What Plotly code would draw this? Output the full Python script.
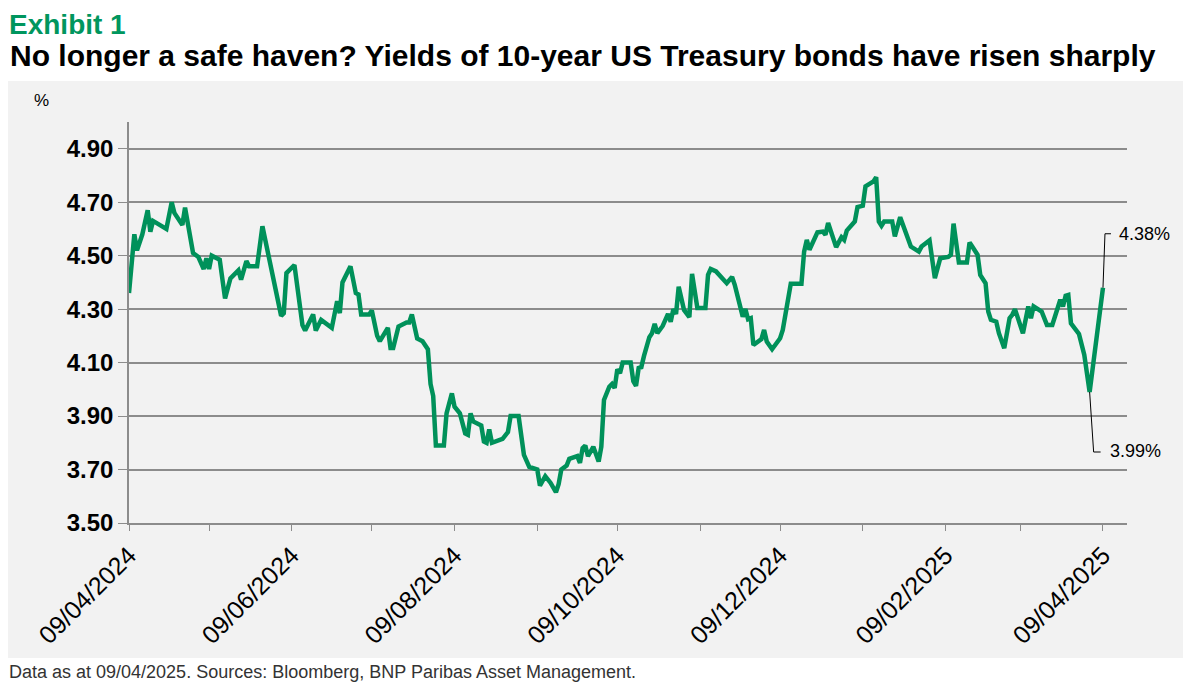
import pandas as pd
import plotly.graph_objects as go

# ---- data ----
start_date = "2024-04-09"
days_since_start = [
    0, 2, 3, 5, 7, 8, 9, 14, 16, 17, 20, 21, 24, 26, 28, 29, 30, 31, 34, 36, 38, 41, 42, 44, 45, 48, 50, 52, 55, 57, 58, 59, 62,
    65, 66, 69, 70, 72, 76, 78, 79, 80, 83, 85, 86, 87, 90, 91, 93, 94, 97, 98, 99, 101, 104, 105, 106, 108, 110, 112, 113, 114, 115, 118, 119, 121, 122, 124,
    126, 127, 128, 129, 132, 133, 134, 135, 136, 140, 142, 143, 146, 148, 150, 153, 154, 156, 158, 160, 161, 162, 164, 165, 168, 169, 170, 171, 172, 173, 174, 176, 177, 178, 180, 181, 182, 183, 184, 185,
    188, 189, 190, 191, 192, 193, 195, 196, 197, 198, 200, 202, 203, 204, 205, 206, 208, 210, 211, 213, 216, 217, 218, 220, 222, 224, 226, 227, 230, 231, 232, 233, 234, 235, 237, 238, 239, 241, 244, 245,
    248, 252, 253, 254, 255, 258, 260, 261, 262, 265, 267, 268, 269, 272, 273, 275, 276, 279, 280, 281, 282, 283, 286, 287, 289, 293, 296, 297, 300, 302, 304, 307,
    308, 309, 311, 314, 315, 316, 318, 319, 321, 322, 323, 325, 326, 328, 330, 331, 332, 335, 337, 338, 339, 342, 344, 346, 349, 350, 351, 352, 353, 356, 358, 360, 362, 365,
]
yield_pct = [
    4.36, 4.58, 4.52, 4.58, 4.67, 4.59, 4.63, 4.60, 4.70, 4.66, 4.615, 4.68, 4.51, 4.495, 4.45, 4.49, 4.45, 4.50, 4.485, 4.34, 4.415, 4.445, 4.41, 4.48, 4.46, 4.46, 4.61, 4.515, 4.39, 4.275, 4.285, 4.435, 4.465,
    4.24, 4.22, 4.28, 4.22, 4.26, 4.23, 4.33, 4.285, 4.40, 4.46, 4.36, 4.355, 4.28, 4.28, 4.295, 4.20, 4.18, 4.23, 4.155, 4.155, 4.235, 4.25, 4.25, 4.28, 4.19, 4.18, 4.15, 4.02, 3.975, 3.79, 3.79, 3.91, 3.985, 3.935, 3.91,
    3.835, 3.83, 3.91, 3.88, 3.865, 3.805, 3.80, 3.85, 3.80, 3.815, 3.84, 3.90, 3.90, 3.755, 3.71, 3.70, 3.64, 3.675, 3.65, 3.615, 3.645, 3.70, 3.715, 3.74, 3.75, 3.725, 3.78, 3.79, 3.75, 3.77, 3.785, 3.73, 3.785, 3.96, 4.01, 4.02, 4.005, 4.075, 4.06, 4.10,
    4.10, 4.03, 4.013, 4.08, 4.083, 4.125, 4.195, 4.21, 4.245, 4.21, 4.237, 4.282, 4.253, 4.30, 4.282, 4.384, 4.297, 4.27, 4.432, 4.304, 4.304, 4.428, 4.45, 4.441, 4.42, 4.397, 4.42, 4.391, 4.272, 4.30, 4.262, 4.266, 4.166, 4.172, 4.188, 4.222, 4.179, 4.15, 4.191, 4.222,
    4.395, 4.395, 4.515, 4.559, 4.522, 4.587, 4.59, 4.578, 4.622, 4.532, 4.569, 4.559, 4.594, 4.628, 4.682, 4.687, 4.759, 4.778, 4.794, 4.628, 4.612, 4.628, 4.628, 4.572, 4.644, 4.534, 4.515, 4.534, 4.557, 4.416, 4.49, 4.495,
    4.503, 4.62, 4.474, 4.474, 4.549, 4.534, 4.503, 4.428, 4.397, 4.291, 4.26, 4.253, 4.21, 4.154, 4.266, 4.279, 4.30, 4.21, 4.31, 4.266, 4.31, 4.291, 4.241, 4.241, 4.335, 4.31, 4.35, 4.353, 4.247, 4.207, 4.129, 3.99, 4.135, 4.38,
]
y_ticks = [3.50, 3.70, 3.90, 4.10, 4.30, 4.50, 4.70, 4.90]
low_value = 3.99
low_label = "3.99%"
last_label = "4.38%"
title_top = "Exhibit 1"
title_main = "No longer a safe haven? Yields of 10-year US Treasury bonds have risen sharply"
footer = "Data as at 09/04/2025. Sources: Bloomberg, BNP Paribas Asset Management."

dates = pd.Timestamp(start_date) + pd.to_timedelta(days_since_start, unit="D")
low_i = yield_pct.index(low_value)
last_i = len(yield_pct) - 1

GREEN = "#00915a"
GRID = "#8c8c8c"
BG = "#f2f2f2"
FONT = "Liberation Sans"

# page body has an 8px margin; figure sized to fit inside the window
OFF = 8
W, H = 1191 - 2 * OFF, 690 - 2 * OFF
ML = 129 - OFF
MT = 122 - OFF
MR = W - (1127 - OFF)
MB = H - (523 - OFF)
PW, PH = W - ML - MR, H - MT - MB


def px_x(p):  # page pixel -> paper x
    return (p - OFF - ML) / PW


def px_y(p):  # page pixel -> paper y
    return (H - MB - (p - OFF)) / PH


fig = go.Figure()
fig.add_trace(go.Scatter(x=dates, y=yield_pct, mode="lines",
                         line=dict(color=GREEN, width=4.5), hoverinfo="x+y",
                         showlegend=False))

shapes = [
    dict(type="rect", xref="paper", yref="paper", x0=px_x(OFF), x1=px_x(OFF + W),
         y0=px_y(658), y1=px_y(81), fillcolor=BG, line=dict(width=0), layer="below"),
    # leader for last value
    dict(type="path", xref="x", yref="y", xsizemode="pixel", ysizemode="pixel",
         xanchor=dates[last_i], yanchor=yield_pct[last_i],
         path="M0,0 L2,54 L8,54", line=dict(color="#000000", width=1)),
    # leader for low value
    dict(type="path", xref="x", yref="y", xsizemode="pixel", ysizemode="pixel",
         xanchor=dates[low_i], yanchor=yield_pct[low_i],
         path="M0,0 L4,-60 L11,-60", line=dict(color="#000000", width=1)),
]

annotations = [
    dict(text=title_top, xref="paper", yref="paper", x=px_x(OFF), y=px_y(8),
         xanchor="left", yanchor="top", showarrow=False, borderpad=0,
         font=dict(family=FONT, size=28, color="#00965e", weight="bold")),
    dict(text=title_main, xref="paper", yref="paper", x=px_x(OFF), y=px_y(55),
         xanchor="left", yanchor="middle", showarrow=False,
         font=dict(family=FONT, size=30, color="#000000", weight="bold")),
    dict(text="%", xref="paper", yref="paper", x=px_x(32), y=px_y(100),
         xanchor="left", yanchor="middle", showarrow=False,
         font=dict(family=FONT, size=17, color="#000000")),
    dict(text=footer, xref="paper", yref="paper", x=px_x(OFF), y=px_y(683),
         xanchor="left", yanchor="bottom", showarrow=False, borderpad=0,
         font=dict(family=FONT, size=18, color="#333333")),
    dict(text=last_label, x=dates[last_i], y=yield_pct[last_i], xref="x", yref="y",
         xanchor="left", yanchor="middle", xshift=14, yshift=54, showarrow=False,
         font=dict(family=FONT, size=18, color="#000000")),
    dict(text=low_label, x=dates[low_i], y=yield_pct[low_i], xref="x", yref="y",
         xanchor="left", yanchor="middle", xshift=18, yshift=-59, showarrow=False,
         font=dict(family=FONT, size=18, color="#000000")),
]

fig.update_layout(
    width=W, height=H,
    margin=dict(l=ML, r=MR, t=MT, b=MB, pad=0),
    paper_bgcolor="#ffffff", plot_bgcolor=BG,
    shapes=shapes, annotations=annotations,
    font=dict(family=FONT, color="#000000"),
    xaxis=dict(
        type="date",
        range=["2024-04-09", "2025-04-18"],
        tick0=start_date, dtick="M2", tickformat="%d/%m/%Y",
        ticks="outside", ticklen=6, tickcolor=GRID, tickwidth=1,
        tickangle=-45, tickfont=dict(family=FONT, size=25, color="#000000"),
        showgrid=False, showline=True, linecolor=GRID, linewidth=1.5,
        minor=dict(dtick="M1", tick0=start_date, ticks="outside", ticklen=6,
                   tickcolor=GRID, showgrid=False),
        zeroline=False,
    ),
    yaxis=dict(
        range=[3.5, 5.0], tickvals=y_ticks, tickformat=".2f",
        ticks="outside", ticklen=9, tickcolor=GRID, tickwidth=1,
        tickfont=dict(family=FONT, size=24, color="#000000", weight="bold"),
        showgrid=True, gridcolor=GRID, gridwidth=1.5,
        showline=True, linecolor=GRID, linewidth=1.5, zeroline=False,
    ),
)

fig.write_html("out.html")
